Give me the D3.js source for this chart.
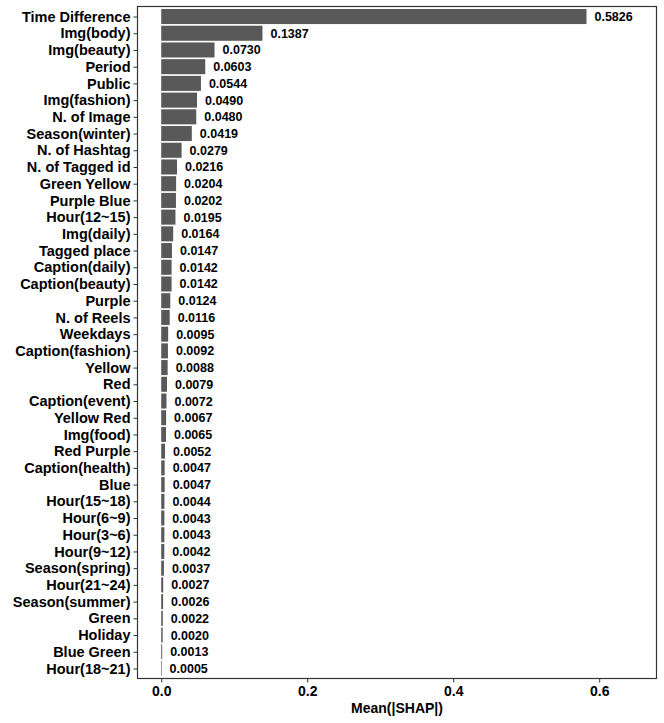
<!DOCTYPE html>
<html><head><meta charset="utf-8">
<script src="https://cdn.jsdelivr.net/npm/d3@7"></script>
<style>body{margin:0;background:#fff;} text{font-family:"Liberation Sans",Arial,sans-serif;font-weight:bold;}</style>
</head><body>
<svg id="chart" width="664" height="723"></svg>
<script>
const categories = ["Time Difference","Img(body)","Img(beauty)","Period","Public","Img(fashion)","N. of Image","Season(winter)","N. of Hashtag","N. of Tagged id","Green Yellow","Purple Blue","Hour(12~15)","Img(daily)","Tagged place","Caption(daily)","Caption(beauty)","Purple","N. of Reels","Weekdays","Caption(fashion)","Yellow","Red","Caption(event)","Yellow Red","Img(food)","Red Purple","Caption(health)","Blue","Hour(15~18)","Hour(6~9)","Hour(3~6)","Hour(9~12)","Season(spring)","Hour(21~24)","Season(summer)","Green","Holiday","Blue Green","Hour(18~21)"];
const values = [0.5826,0.1387,0.0730,0.0603,0.0544,0.0490,0.0480,0.0419,0.0279,0.0216,0.0204,0.0202,0.0195,0.0164,0.0147,0.0142,0.0142,0.0124,0.0116,0.0095,0.0092,0.0088,0.0079,0.0072,0.0067,0.0065,0.0052,0.0047,0.0047,0.0044,0.0043,0.0043,0.0042,0.0037,0.0027,0.0026,0.0022,0.0020,0.0013,0.0005];
const xTicks = [0.0,0.2,0.4,0.6];
const xTitle = "Mean(|SHAP|)";

const svg = d3.select("#chart");
const L = 137.5, R = 656.5, T = 6.5, B = 678.5;
const x = d3.scaleLinear().domain([-0.0325, 0.6785]).range([L, R]);
const n = categories.length;
const step = (B - T) / (n - 1 + 1.2);
const y = d3.scalePoint().domain(categories).range([T + 0.6*step, B - 0.6*step]);
const bh = step * 0.9;

const data = categories.map((c,i)=>({c, v: values[i]}));

svg.append("g").selectAll("rect").data(data).join("rect")
  .attr("x", x(0)).attr("y", d => y(d.c) - bh/2)
  .attr("width", d => Math.max(0.6, x(d.v) - x(0))).attr("height", bh)
  .attr("fill", "#595959");

svg.append("g").selectAll("text").data(data).join("text")
  .attr("x", d => x(d.v) + 8).attr("y", d => y(d.c)).attr("dy", "0.36em")
  .attr("font-size", 12.5).attr("fill", "#000")
  .text(d => d.v.toFixed(4));

// panel border
svg.append("rect").attr("x", L).attr("y", T).attr("width", R-L).attr("height", B-T)
  .attr("fill", "none").attr("stroke", "#333").attr("stroke-width", 1.2);

// y axis
const yg = svg.append("g").attr("transform", `translate(${L},0)`);
yg.call(d3.axisLeft(y).tickSize(4).tickPadding(3));
yg.select(".domain").remove();
yg.selectAll(".tick line").attr("stroke", "#333");
yg.selectAll(".tick text").attr("font-size", 14.5).attr("fill", "#000").attr("font-family", "Liberation Sans, Arial, sans-serif").attr("font-weight", "bold");

// x axis
const xg = svg.append("g").attr("transform", `translate(0,${B})`);
xg.call(d3.axisBottom(x).tickValues(xTicks).tickFormat(d3.format(".1f")).tickSize(4).tickPadding(4));
xg.select(".domain").remove();
xg.selectAll(".tick line").attr("stroke", "#333");
xg.selectAll(".tick text").attr("font-size", 14).attr("fill", "#000").attr("font-family", "Liberation Sans, Arial, sans-serif").attr("font-weight", "bold");

svg.append("text").attr("x", (L+R)/2).attr("y", 713).attr("text-anchor", "middle")
  .attr("font-size", 14).attr("fill", "#000").text(xTitle);
</script>
</body></html>
